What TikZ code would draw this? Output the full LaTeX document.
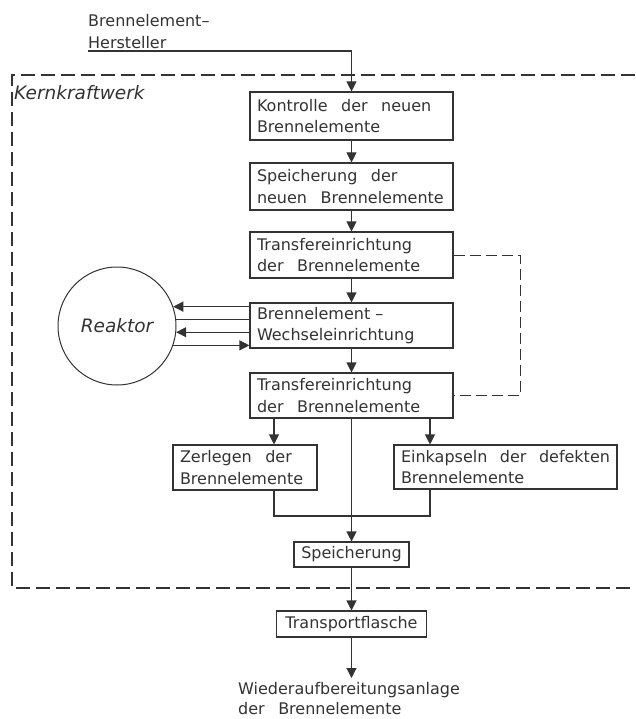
\documentclass[tikz,border=0pt]{standalone}
\usepackage{fontspec}
\setmainfont{DejaVu Sans}
\usetikzlibrary{arrows.meta}
\definecolor{ink}{HTML}{333333}
\newcommand{\wsp}{\spaceskip=13.5pt plus 2pt minus 1pt\relax}
\begin{document}
\begin{tikzpicture}[x=1pt,y=-1pt,
  every node/.style={font=\fontsize{16}{21.5}\selectfont, text=ink, execute at begin node=\wsp},
  box/.style={draw=ink, line width=1.1pt, inner xsep=7pt, inner ysep=0pt, align=left},
  arr/.style={draw=ink, line width=1.1pt, -{Triangle[length=10pt,width=10pt]}},
  ln/.style={draw=ink, line width=1.1pt},
  frame/.style={draw=ink, line width=1.1pt, dash pattern=on 14pt off 6pt},
  loopl/.style={draw=ink, line width=1pt, dash pattern=on 11pt off 5pt},
  ital/.style={font=\fontsize{18.5}{21}\selectfont\itshape}
]
\useasboundingbox (0,0) rectangle (635,719);

% frame
\draw[frame] (635,75) -- (12,75) -- (12,588) -- (635,588);
\node[ital, anchor=west, inner sep=0pt] (kkw) at (14,93) {Kernkraftwerk};

% source
\node[anchor=south west, align=left, inner xsep=0pt, inner ysep=2.5pt] (src) at (88,51) {Brennelement–\\Hersteller};

% boxes
\node[box, text width=189pt, minimum height=48pt] (k)  at (351.5,116)   {Kontrolle der neuen\\Brennelemente};
\node[box, text width=189pt, minimum height=47pt] (s)  at (351.5,186.5) {Speicherung der\\neuen Brennelemente};
\node[box, text width=189pt, minimum height=46pt] (t1) at (351.5,255)   {Transfereinrichtung\\der Brennelemente};
\node[box, text width=189pt, minimum height=45pt] (w)  at (351.5,325.5) {Brennelement\kern5pt–\\Wechseleinrichtung};
\node[box, text width=189pt, minimum height=45pt] (t2) at (351.5,395.5) {Transfereinrichtung\\der Brennelemente};
\node[box, text width=130pt, minimum height=45pt] (z)  at (245,467.5)   {Zerlegen der\\Brennelemente};
\node[box, text width=209pt, minimum height=44pt] (e)  at (505.5,467)   {Einkapseln der defekten\\Brennelemente};
\node[box, text width=101pt, minimum height=25pt, align=center] (sp) at (351.5,554.5) {Speicherung};
\node[box, text width=136pt, minimum height=26pt, align=center] (tf) at (351.5,624) {Transportflasche};
\node[anchor=north west, align=left, inner xsep=0pt, inner ysep=4pt, font=\fontsize{16}{20.5}\selectfont] (dst) at (238,678) {Wiederaufbereitungsanlage\\der Brennelemente};

% reactor
\node[circle, draw=ink, line width=1pt, minimum size=118pt, inner sep=0pt, ital] (r) at (117,326) {Reaktor};

% helper coordinates
\coordinate (lp) at (520,326);
\coordinate (bl) at (274,430);
\coordinate (br) at (430,430);
\coordinate (jn) at (351.5,516);

% connectors
\draw[arr] (src.south west) -| (k.north);
\draw[arr] (k.south) -- (s.north);
\draw[arr] (s.south) -- (t1.north);
\draw[arr] (t1.south) -- (w.north);
\draw[arr] (w.south) -- (t2.north);
\draw[loopl] (t1.east) -- (t1.east -| lp) -- (t2.east -| lp) -- (t2.east);

\draw[arr] (r.19.8 -| w.west) -- (r.19.8);
\draw[ln]  (r.6.8) -- (r.6.8 -| w.west);
\draw[arr] (r.-6.8 -| w.west) -- (r.-6.8);
\draw[arr] (r.-19.8) -- (r.-19.8 -| w.west);

\draw[arr] (t2.south -| bl) -- (z.north -| bl);
\draw[arr] (t2.south -| br) -- (e.north -| br);
\draw[arr] (t2.south) -- (sp.north);
\draw[ln] (z.south -| bl) |- (jn);
\draw[ln] (e.south -| br) |- (jn);
\draw[arr] (sp.south) -- (tf.north);
\draw[arr] (tf.south) -- (tf.south |- dst.north);
\end{tikzpicture}
\end{document}
